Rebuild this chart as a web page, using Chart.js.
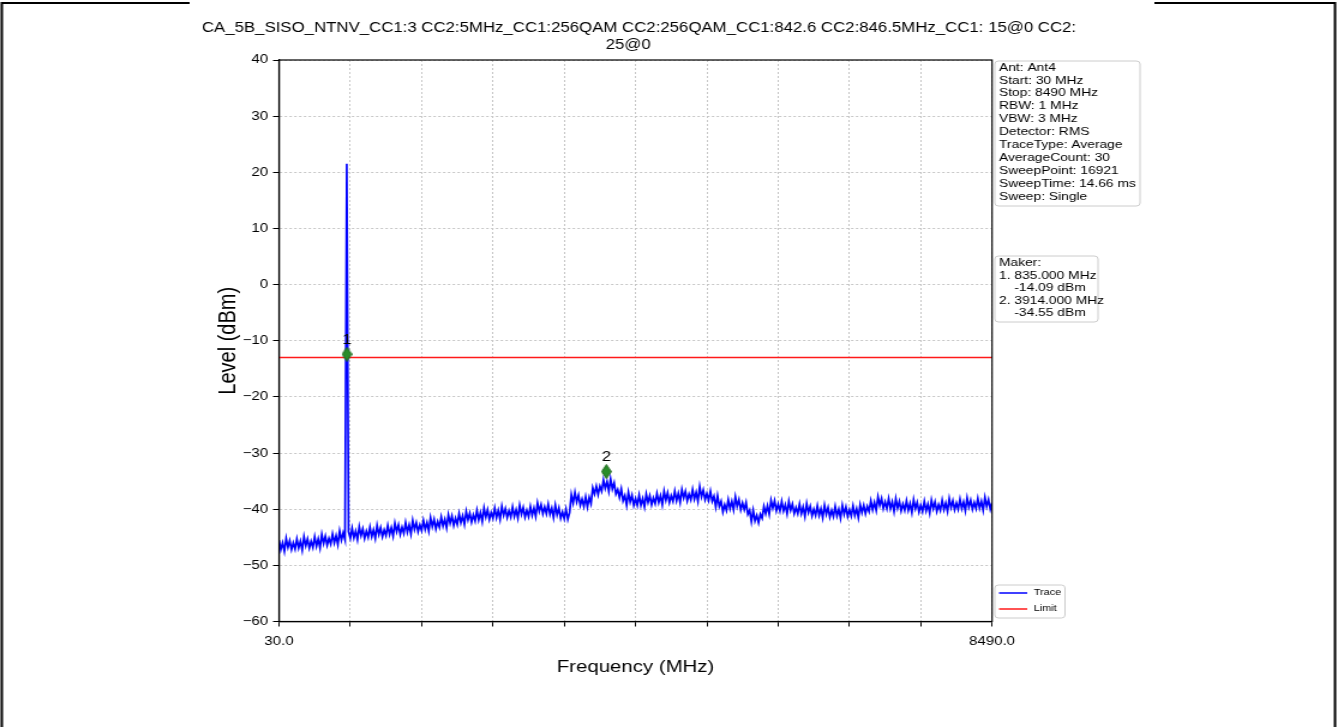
<!DOCTYPE html>
<html>
<head>
<meta charset="utf-8">
<script src="https://cdn.jsdelivr.net/npm/chart.js@4.4.1/dist/chart.umd.min.js"></script>
<style>
  html, body { margin: 0; padding: 0; background: #fff; }
</style>
</head>
<body>
<!-- the reference picture is stretched sideways, so the canvas is stretched the same way -->
<canvas id="grafica1" width="1115" height="727" style="display:block;width:1338px;height:727px;"></canvas>
<script>
// sweep
var startFreq = 30;
var stopFreq = 8490;
var sweepStep = 21.15; // MHz between plotted points

var traceLevels = [
  -45.5, -47.2, -46.0, -47.5, -45.2, -46.8, -45.6, -47.2, -46.0, -47.1,
  -45.3, -46.9, -45.7, -47.3, -44.9, -46.5, -45.3, -46.9, -45.7, -46.8,
  -44.9, -46.6, -45.3, -46.9, -44.5, -46.1, -44.8, -46.4, -45.2, -46.2,
  -44.4, -46.0, -44.7, -46.3, -43.9, -45.5, -44.2, -45.4,
  21.5,
  -44.0, -45.2,
  -43.4, -45.1, -43.9, -45.4, -43.1, -44.7, -43.5, -45.2, -43.9, -45.0,
  -43.2, -44.9, -43.7, -45.2, -42.9, -44.5, -43.3, -44.9, -43.7, -44.7,
  -42.9, -44.5, -43.3, -44.8, -42.5, -44.0, -42.8, -44.5, -43.2, -44.3,
  -42.4, -44.1, -42.8, -44.4, -42.0, -43.6, -42.4, -44.0, -42.8, -43.8,
  -42.0, -43.6, -42.4, -43.9, -41.5, -43.1, -41.8, -43.5, -42.2, -43.2,
  -41.4, -43.0, -41.8, -43.3, -41.0, -42.5, -41.2, -42.9, -41.6, -42.7,
  -40.8, -42.4, -41.2, -42.7, -40.4, -41.9, -40.7, -42.3, -41.0, -42.1,
  -40.2, -41.9, -40.6, -42.2, -39.8, -41.4, -40.1, -41.8, -40.6, -41.6,
  -39.8, -41.5, -40.2, -41.8,
  -39.5, -41.1, -39.9, -41.5, -40.3, -41.4, -39.6, -41.3, -40.1, -41.6,
  -39.3, -40.9, -39.7, -41.4, -40.2, -41.3, -39.5, -41.1, -39.8, -41.3,
  -38.9, -40.4, -39.2, -40.8, -39.6, -40.8, -39.1, -40.9, -39.8, -41.5,
  -39.3, -41.0, -39.8, -41.6, -40.5, -41.7, -40.0, -41.8, -40.6,
  -37.4, -38.9,
  -37.0, -38.7, -37.5, -39.3, -38.2, -39.5, -37.8, -39.6,
  -37.9, -39.0, -36.2, -37.3, -35.9, -37.4, -35.9, -36.8, -34.8, -36.3,
  -35.1, -36.8, -34.6, -36.4, -35.3, -37.3, -36.5, -37.9, -36.4, -38.5,
  -37.6, -39.3, -37.0, -38.7, -37.5, -39.3, -38.1, -39.3, -37.5, -39.3,
  -38.1, -39.6, -37.3, -38.8, -37.6, -39.2, -38.0, -39.0, -37.2, -38.8,
  -37.6, -39.2, -36.8, -38.4, -37.1, -38.8, -37.6, -38.6, -36.8, -38.5,
  -37.2, -38.8, -36.5, -38.0, -36.8, -38.5, -37.3, -38.3, -36.5, -38.2,
  -37.0, -38.6, -36.0, -37.8, -36.6, -38.3, -37.2, -38.4, -36.8, -38.6,
  -37.7, -39.6, -37.6, -39.5, -38.6, -40.5, -39.2, -40.2, -38.3, -39.9,
  -38.6, -40.1, -37.8, -39.5, -38.3, -40.1, -38.9, -40.1, -38.8, -40.9,
  -40.2, -42.2, -40.2, -42.1, -41.1, -42.4, -40.9, -41.6, -39.5, -40.8,
  -39.4, -40.9, -38.4, -39.8, -38.5,
  -40.3, -39.1, -40.3, -38.6, -40.3, -39.2, -40.8, -38.6, -40.2, -39.1,
  -40.8, -39.7, -40.8, -39.1, -40.8, -39.6, -41.3, -39.0, -40.6, -39.5,
  -41.2, -40.0, -41.1, -39.4, -41.1, -39.9, -41.5, -39.3, -40.9, -39.7,
  -41.4, -40.2, -41.3, -39.5, -41.2, -40.0, -41.6, -39.3, -40.9, -39.6,
  -41.3, -40.1, -41.2, -39.4, -41.1, -39.9, -41.5, -39.2, -40.6, -39.3,
  -40.8, -39.5, -40.4, -38.5,
  -40.1, -38.8, -40.2, -37.8, -39.3, -38.1, -39.9, -38.7, -39.9, -38.1,
  -39.9, -38.7, -40.4, -38.1, -39.8, -38.6, -40.3, -39.1, -40.2, -38.5,
  -40.2, -39.0, -40.6, -38.3, -39.9, -38.8, -40.5, -39.3, -40.4, -38.6,
  -40.3, -39.1, -40.7, -38.4, -39.9, -38.7, -40.4, -39.2, -40.2, -38.4,
  -40.1, -38.9, -40.4, -38.1, -39.7, -38.5, -40.1, -38.9, -40.0, -38.2,
  -39.9, -38.7, -40.3, -38.0, -39.6, -38.4, -40.0, -38.8, -39.9, -38.1,
  -39.8, -38.6, -40.2, -37.9, -39.5, -38.3, -40.0, -38.8
];

var limitFreqs = [30, 8490];
var limitLevels = [-13, -13];

var markerNames = ['1', '2'];
var markerFreqs = [835, 3914];
var markerLevels = [-12.4, -33.3];

var xTickValues = [30, 876, 1722, 2568, 3414, 4260, 5106, 5952, 6798, 7644, 8490];

var titleLines = [
  'CA_5B_SISO_NTNV_CC1:3 CC2:5MHz_CC1:256QAM CC2:256QAM_CC1:842.6 CC2:846.5MHz_CC1: 15@0 CC2:',
  '25@0'
];
var infoLines = [
  'Ant: Ant4', 'Start: 30 MHz', 'Stop: 8490 MHz', 'RBW: 1 MHz', 'VBW: 3 MHz', 'Detector: RMS',
  'TraceType: Average', 'AverageCount: 30', 'SweepPoint: 16921', 'SweepTime: 14.66 ms', 'Sweep: Single'
];
var makerLines = ['Maker:', '1. 835.000 MHz', '    -14.09 dBm', '2. 3914.000 MHz', '    -34.55 dBm'];

var fuente = "'Liberation Sans', Arial, sans-serif";

// build point lists
var tracePoints = traceLevels.map(function (v, i) { return {x: startFreq + i * sweepStep, y: v}; });
var limitPoints = limitFreqs.map(function (f, i) { return {x: f, y: limitLevels[i]}; });
var markerPoints = markerFreqs.map(function (f, i) { return {x: f, y: markerLevels[i]}; });

// thin diamond marker like matplotlib 'd'
var rombo = document.createElement('canvas');
rombo.width = 9; rombo.height = 15;
var rc = rombo.getContext('2d');
rc.fillStyle = '#2a8c2a';
rc.strokeStyle = '#1b661b';
rc.lineWidth = 1;
rc.beginPath();
rc.moveTo(4.5, 0.5); rc.lineTo(8.5, 7.5); rc.lineTo(4.5, 14.5); rc.lineTo(0.5, 7.5);
rc.closePath(); rc.fill(); rc.stroke();

function caja(ctx, x, y, w, h) {
  var r = 3;
  ctx.beginPath();
  ctx.moveTo(x + r, y);
  ctx.lineTo(x + w - r, y); ctx.quadraticCurveTo(x + w, y, x + w, y + r);
  ctx.lineTo(x + w, y + h - r); ctx.quadraticCurveTo(x + w, y + h, x + w - r, y + h);
  ctx.lineTo(x + r, y + h); ctx.quadraticCurveTo(x, y + h, x, y + h - r);
  ctx.lineTo(x, y + r); ctx.quadraticCurveTo(x, y, x + r, y);
  ctx.closePath();
  ctx.fillStyle = 'rgba(255,255,255,0.85)';
  ctx.fill();
  ctx.strokeStyle = '#cccccc';
  ctx.lineWidth = 1;
  ctx.stroke();
}

var plugin = {
  id: 'decorado',
  afterDatasetsDraw: function (chart) {
    var ctx = chart.ctx;
    var meta = chart.getDatasetMeta(0);
    ctx.save();
    ctx.fillStyle = '#000';
    ctx.font = '14px ' + fuente;
    ctx.textAlign = 'center';
    ctx.textBaseline = 'middle';
    meta.data.forEach(function (p, i) {
      ctx.fillText(markerNames[i], p.x, p.y - 14);
    });
    ctx.restore();
  },
  afterDraw: function (chart) {
    var ctx = chart.ctx;
    var a = chart.chartArea;
    ctx.save();

    // page frame
    ctx.strokeStyle = '#000';
    ctx.lineWidth = 2;
    ctx.beginPath();
    ctx.moveTo(1.5, 727); ctx.lineTo(1.5, 3); ctx.lineTo(158, 3);
    ctx.moveTo(962, 3); ctx.lineTo(1112.5, 3); ctx.lineTo(1112.5, 727);
    ctx.stroke();

    // axes box
    ctx.lineWidth = 1.2;
    ctx.strokeRect(a.left, a.top, a.right - a.left, a.bottom - a.top);

    // title
    ctx.fillStyle = '#000';
    ctx.font = '14px ' + fuente;
    ctx.textAlign = 'center';
    ctx.textBaseline = 'middle';
    ctx.fillText(titleLines[0], 532.5, 28);
    ctx.fillText(titleLines[1], 523.5, 45);

    // settings box
    ctx.textAlign = 'left';
    caja(ctx, 829, 61, 121, 145);
    ctx.fillStyle = '#000';
    ctx.font = '11.5px ' + fuente;
    infoLines.forEach(function (t, i) { ctx.fillText(t, 832.5, 67.5 + i * 12.9); });

    // marker box
    caja(ctx, 829, 256, 86, 66);
    ctx.fillStyle = '#000';
    makerLines.forEach(function (t, i) { ctx.fillText(t, 832.5, 263 + i * 12.5); });

    // legend
    caja(ctx, 829, 585, 58.5, 33);
    ctx.font = '9px ' + fuente;
    var leyenda = [chart.data.datasets[2], chart.data.datasets[1]];
    leyenda.forEach(function (ds, i) {
      var yy = 593 + i * 16;
      ctx.strokeStyle = ds.borderColor;
      ctx.lineWidth = 1.5;
      ctx.beginPath(); ctx.moveTo(832.5, yy); ctx.lineTo(856, yy); ctx.stroke();
      ctx.fillStyle = '#000';
      ctx.fillText(ds.label, 861.5, yy);
    });
    ctx.restore();
  }
};

var ejeComun = {
  grid: { color: '#c6c6c6', lineWidth: 1, tickLength: 5, tickColor: '#000', tickWidth: 1 },
  border: { display: true, color: '#000', width: 1.2, dash: [2, 2] }
};

var w = new Chart(document.getElementById('grafica1'), {
  type: 'line',
  data: {
    datasets: [
      {
        label: 'Marker',
        data: markerPoints,
        showLine: false,
        pointStyle: rombo,
        pointRadius: 6,
        order: 0
      },
      {
        label: 'Limit',
        data: limitPoints,
        borderColor: '#ff1a1a',
        borderWidth: 1.5,
        pointRadius: 0,
        order: 1
      },
      {
        label: 'Trace',
        data: tracePoints,
        borderColor: '#0000ff',
        borderWidth: 1.7,
        pointRadius: 0,
        tension: 0,
        order: 2
      }
    ]
  },
  options: {
    responsive: false,
    animation: false,
    layout: { padding: { left: 170, right: 288.3, top: 60, bottom: 30 } },
    scales: {
      x: {
        type: 'linear',
        min: startFreq,
        max: stopFreq,
        afterBuildTicks: function (scale) {
          scale.ticks = xTickValues.map(function (v) { return {value: v}; });
        },
        afterFit: function (scale) { scale.height = 75.5; },
        ticks: {
          autoSkip: false,
          maxRotation: 0,
          padding: 8,
          color: '#000',
          font: { family: fuente, size: 12.5 },
          callback: function (v, i, t) {
            return (i === 0 || i === t.length - 1) ? Number(v).toFixed(1) : '';
          }
        },
        grid: ejeComun.grid,
        border: ejeComun.border,
        title: {
          display: true,
          text: 'Frequency (MHz)',
          color: '#000',
          font: { family: fuente, size: 17 },
          padding: { top: 0, bottom: 19 }
        }
      },
      y: {
        min: -60,
        max: 40,
        afterFit: function (scale) { scale.width = 62.5; },
        ticks: {
          stepSize: 10,
          padding: 4,
          color: '#000',
          font: { family: fuente, size: 12.5 },
          callback: function (v) { return String(v).replace('-', '\u2212'); }
        },
        grid: ejeComun.grid,
        border: ejeComun.border,
        title: {
          display: true,
          text: 'Level (dBm)',
          color: '#000',
          font: { family: fuente, size: 20 },
          padding: { top: 8, bottom: 0 }
        }
      }
    },
    plugins: {
      legend: { display: false },
      tooltip: { enabled: false },
      title: { display: false }
    }
  },
  plugins: [plugin]
});
</script>
</body>
</html>
